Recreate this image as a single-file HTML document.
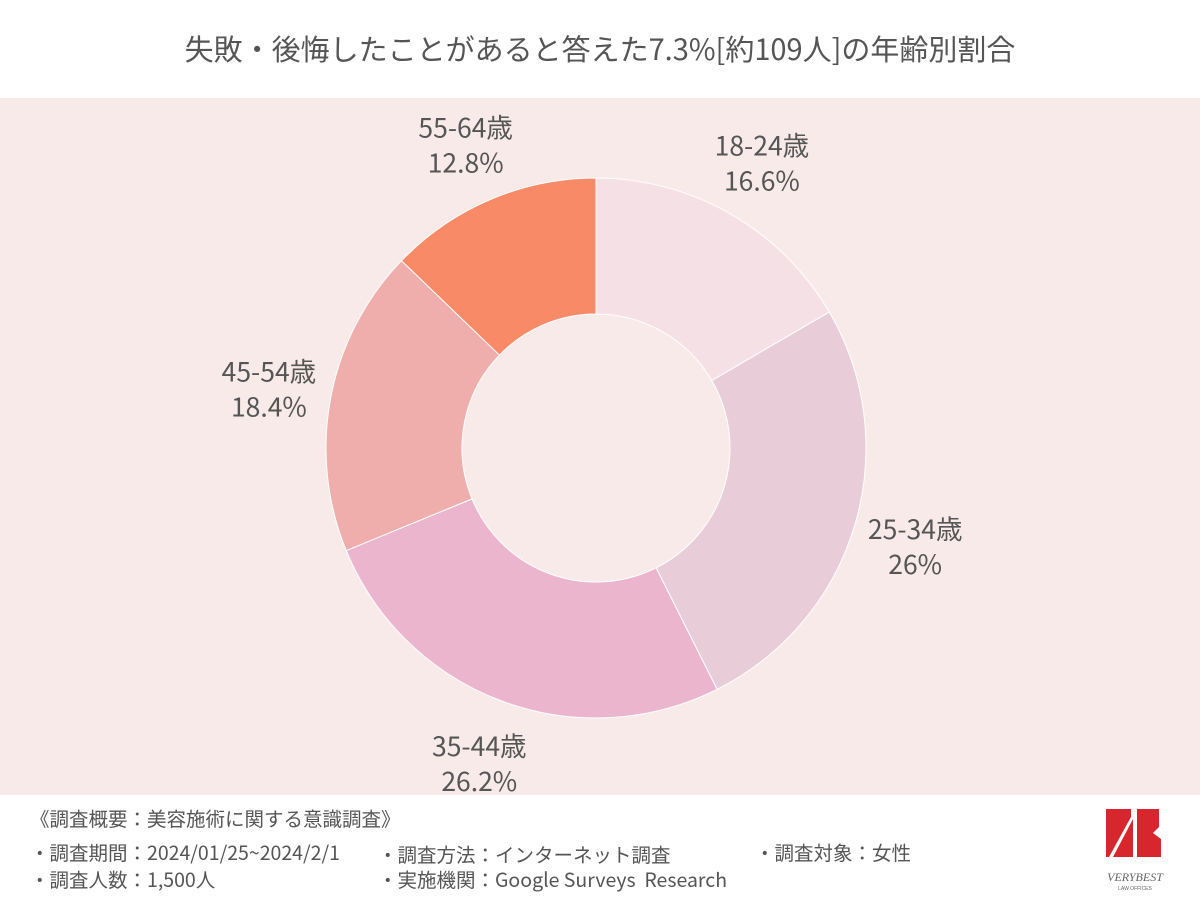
<!DOCTYPE html>
<html><head><meta charset="utf-8"><style>
body{margin:0;width:1200px;height:900px;background:#fff;font-family:"Noto Sans CJK JP","Liberation Sans",sans-serif;position:relative;overflow:hidden;color:#555}
.t{position:absolute;white-space:nowrap;line-height:1.2}
.f{font-size:19.5px}
</style></head><body>
<div class="t" style="left:0;width:1200px;text-align:center;top:31px;font-size:29px;color:#555">失敗・後悔したことがあると答えた7.3%[約109人]の年齢別割合</div>
<div style="position:absolute;left:0;top:98px;width:1200px;height:697px;background:#f7eae9"></div>
<svg id="chart" width="1200" height="900" style="position:absolute;left:0;top:0;font-family:'Noto Sans CJK JP','Liberation Sans',sans-serif"></svg>
<div class="t f" style="left:30px;top:806px">《調査概要：美容施術に関する意識調査》</div>
<div class="t f" style="left:30px;top:840px">・調査期間：2024/01/25~2024/2/1</div>
<div class="t f" style="left:30px;top:867px">・調査人数：1,500人</div>
<div class="t f" style="left:378px;top:842px">・調査方法：インターネット調査</div>
<div class="t f" style="left:378px;top:867px">・実施機関：Google Surveys&nbsp; Research</div>
<div class="t f" style="left:755px;top:840px">・調査対象：女性</div>
<svg style="position:absolute;left:1095px;top:805px" width="80" height="90">
<polygon points="11,4 36,4 36,12 14,52 11,52" fill="#d8262e"/>
<polygon points="38,14 38,52 18,52" fill="#d8262e"/>
<polygon points="42,4 64,4 64,22 58,28 66,34 66,52 42,52" fill="#d8262e"/>
<text x="40" y="76" text-anchor="middle" font-size="12" font-family="Liberation Serif" fill="#666" font-style="italic">VERYBEST</text>
<text x="40" y="85" text-anchor="middle" font-size="5" font-family="Liberation Sans" fill="#666">LAW OFFICES</text>
</svg>
<script>
const categories=["18-24歳","25-34歳","35-44歳","45-54歳","55-64歳"];
const values=[16.6,26,26.2,18.4,12.8];
const valueLabels=["16.6%","26%","26.2%","18.4%","12.8%"];
const colors=["#f5e0e5","#e8cdd9","#ecb5ce","#efadab","#f98a68"];
const svg=document.getElementById('chart');
const NS="http://www.w3.org/2000/svg";
const cx=596,cy=448,R=270,r=134,LR=333;
const total=values.reduce((a,b)=>a+b,0);
function pt(a,rad){return [cx+rad*Math.sin(a),cy-rad*Math.cos(a)];}
let acc=0;
values.forEach((v,i)=>{
  const a0=acc/total*2*Math.PI; acc+=v; const a1=acc/total*2*Math.PI;
  const large=(a1-a0)>Math.PI?1:0;
  const [x0,y0]=pt(a0,R),[x1,y1]=pt(a1,R),[x2,y2]=pt(a1,r),[x3,y3]=pt(a0,r);
  const p=document.createElementNS(NS,'path');
  p.setAttribute('d',`M${x0},${y0}A${R},${R} 0 ${large} 1 ${x1},${y1}L${x2},${y2}A${r},${r} 0 ${large} 0 ${x3},${y3}Z`);
  p.setAttribute('fill',colors[i]);p.setAttribute('stroke','#fff');p.setAttribute('stroke-width','1');
  
  
  svg.appendChild(p);
  const am=(a0+a1)/2;const [lx,ly]=pt(am,LR);
  [categories[i],valueLabels[i]].forEach((s,k)=>{
    const t=document.createElementNS(NS,'text');
    t.setAttribute('x',lx);t.setAttribute('y',ly-4+k*35);
    t.setAttribute('text-anchor','middle');t.setAttribute('font-size','26.5');t.setAttribute('fill','#555');
    
    
    t.textContent=s;svg.appendChild(t);
  });
});
</script>
</body></html>
